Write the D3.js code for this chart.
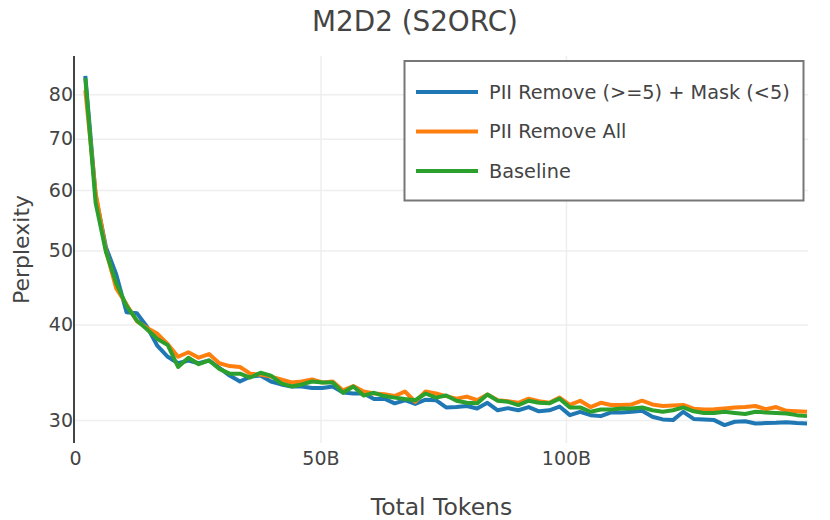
<!DOCTYPE html>
<html>
<head>
<meta charset="utf-8">
<script src="https://cdn.jsdelivr.net/npm/d3@7"></script>
<style>
  body { margin: 0; background: #fff; }
  text { font-family: "DejaVu Sans", Verdana, sans-serif; fill: #444; }
</style>
</head>
<body>
<svg id="chart" width="830" height="520"></svg>
<script>
// total tokens (billions) at each eval point
const tokens = [2.1, 4.2, 6.3, 8.4, 10.5, 12.6, 14.7, 16.8, 18.9, 21.0, 23.1, 25.2, 27.3, 29.4, 31.5, 33.6, 35.7, 37.8, 39.9, 42.0,
  44.1, 46.2, 48.3, 50.4, 52.5, 54.6, 56.7, 58.8, 60.9, 63.0, 65.1, 67.2, 69.3, 71.4, 73.5, 75.6, 77.7, 79.8, 81.9, 84.0,
  86.1, 88.2, 90.3, 92.4, 94.5, 96.6, 98.7, 100.8, 102.9, 105.0, 107.1, 109.2, 111.3, 113.4, 115.5, 117.6, 119.7, 121.8, 123.9, 126.0,
  128.1, 130.2, 132.3, 134.4, 136.5, 138.6, 140.7, 142.8, 144.9, 147.0, 149.1];

const removeMask = [84.6, 59.0, 50.5, 46.5, 41.5, 41.4, 39.7, 37.5, 36.3, 35.6, 35.9, 35.6, 35.9, 35.1, 34.3, 33.7, 34.2, 34.3, 33.7, 33.4,
  33.2, 33.2, 33.05, 33.05, 33.2, 32.6, 32.5, 32.5, 31.96, 32.0, 31.55, 31.85, 31.5, 31.9, 31.85, 31.17, 31.2, 31.3, 31.07, 31.6,
  30.9, 31.1, 30.9, 31.2, 30.8, 30.9, 31.25, 30.45, 30.75, 30.45, 30.36, 30.7, 30.7, 30.76, 30.85, 30.3, 30.06, 30.0, 30.76, 30.1,
  30.05, 30.0, 29.55, 29.85, 29.9, 29.7, 29.73, 29.75, 29.8, 29.73, 29.7];

const removeAll = [81.0, 59.5, 50.0, 44.6, 42.5, 40.4, 39.6, 38.9, 37.7, 36.3, 36.8, 36.2, 36.6, 35.6, 35.3, 35.2, 34.5, 34.4, 34.2, 33.9,
  33.6, 33.7, 33.9, 33.6, 33.7, 32.8, 33.24, 32.7, 32.5, 32.44, 32.25, 32.7, 31.7, 32.7, 32.5, 32.25, 32.0, 32.2, 31.85, 32.4,
  31.85, 31.75, 31.6, 32.0, 31.75, 31.6, 32.1, 31.4, 31.8, 31.2, 31.6, 31.4, 31.4, 31.45, 31.8, 31.45, 31.3, 31.35, 31.4, 31.05,
  30.97, 31.0, 31.07, 31.15, 31.2, 31.3, 31.0, 31.2, 30.85, 30.8, 30.76];

const baseline = [84.0, 57.7, 49.8, 45.3, 42.3, 40.5, 39.4, 38.3, 37.6, 35.2, 36.2, 35.5, 35.9, 35.0, 34.5, 34.5, 34.1, 34.6, 34.3, 33.5,
  33.2, 33.4, 33.7, 33.6, 33.6, 32.57, 33.2, 32.3, 32.57, 32.25, 32.1, 31.96, 31.85, 32.5, 32.1, 32.3, 31.8, 31.6, 31.55, 32.4,
  31.8, 31.7, 31.39, 31.8, 31.6, 31.55, 32.0, 31.17, 31.17, 30.76, 30.97, 30.97, 31.07, 31.07, 31.17, 30.9, 30.76, 30.9, 31.17, 30.8,
  30.65, 30.65, 30.76, 30.65, 30.55, 30.76, 30.7, 30.65, 30.6, 30.45, 30.36];

const seriesNames = ["PII Remove (>=5) + Mask (<5)", "PII Remove All", "Baseline"];
const seriesColors = ["#1f77b4", "#ff7f0e", "#2ca02c"];

const yTicks = [30, 40, 50, 60, 70, 80];
const xTicks = [0, 50, 100];
const xTickLabels = ["0", "50B", "100B"];

const plot = { left: 75, right: 808, top: 56, bottom: 443 };

const svg = d3.select("#chart");

const x = d3.scaleLinear().domain([0, 149.3]).range([plot.left, plot.right]);
const y = d3.scaleLog().domain([28.0, 89.8]).range([plot.bottom, plot.top]);

// grid
svg.append("g")
  .call(d3.axisLeft(y).tickValues(yTicks).tickSize(-(plot.right - plot.left)).tickFormat(""))
  .attr("transform", `translate(${plot.left},0)`)
  .call(g => g.select(".domain").remove())
  .call(g => g.selectAll("line").attr("stroke", "#eee").attr("stroke-width", 1.5));

svg.append("g")
  .call(d3.axisBottom(x).tickValues(xTicks.slice(1)).tickSize(-(plot.bottom - plot.top)).tickFormat(""))
  .attr("transform", `translate(0,${plot.bottom})`)
  .call(g => g.select(".domain").remove())
  .call(g => g.selectAll("line").attr("stroke", "#eee").attr("stroke-width", 1.5));

// tick labels
svg.append("g")
  .attr("transform", `translate(${plot.left},0)`)
  .call(d3.axisLeft(y).tickValues(yTicks).tickSize(0).tickPadding(2).tickFormat(d3.format("d")))
  .call(g => g.select(".domain").remove())
  .call(g => g.selectAll("text").attr("font-size", 19).attr("fill", "#444")
    .attr("font-family", "DejaVu Sans"));

svg.append("g")
  .attr("transform", `translate(0,${plot.bottom})`)
  .call(d3.axisBottom(x).tickValues(xTicks).tickSize(0).tickPadding(8.5).tickFormat((d, i) => xTickLabels[i]))
  .call(g => g.select(".domain").remove())
  .call(g => g.selectAll("text").attr("font-size", 19).attr("fill", "#444")
    .attr("font-family", "DejaVu Sans"));

// y axis line
svg.append("line")
  .attr("x1", plot.left - 1).attr("x2", plot.left - 1)
  .attr("y1", plot.top).attr("y2", plot.bottom)
  .attr("stroke", "#444").attr("stroke-width", 2);

// lines
const allSeries = [removeMask, removeAll, baseline];
const line = d3.line()
  .x((d, i) => x(tokens[i]))
  .y(d => y(d));

svg.append("g")
  .selectAll("path")
  .data(allSeries)
  .join("path")
  .attr("d", line)
  .attr("fill", "none")
  .attr("stroke", (d, i) => seriesColors[i])
  .attr("stroke-width", 4)
  .attr("stroke-linejoin", "round");

// legend
const legend = svg.append("g");
legend.append("rect")
  .attr("x", 404.5).attr("y", 61).attr("width", 399).attr("height", 139.5)
  .attr("fill", "#fff").attr("stroke", "#777").attr("stroke-width", 2);

const items = legend.selectAll("g.item")
  .data(seriesNames)
  .join("g")
  .attr("class", "item")
  .attr("transform", (d, i) => `translate(0,${92 + i * 39.5})`);

items.append("line")
  .attr("x1", 416).attr("x2", 478)
  .attr("stroke", (d, i) => seriesColors[i])
  .attr("stroke-width", 4);

items.append("text")
  .attr("x", 489)
  .attr("dy", "0.36em")
  .attr("font-size", 19.3)
  .text(d => d);

// titles
svg.append("text")
  .attr("x", 415).attr("y", 31)
  .attr("text-anchor", "middle")
  .attr("font-size", 27.8)
  .text("M2D2 (S2ORC)");

svg.append("text")
  .attr("x", (plot.left + plot.right) / 2).attr("y", 515)
  .attr("text-anchor", "middle")
  .attr("font-size", 23.5)
  .text("Total Tokens");

svg.append("text")
  .attr("transform", `translate(29,${(plot.top + plot.bottom) / 2}) rotate(-90)`)
  .attr("text-anchor", "middle")
  .attr("font-size", 22)
  .text("Perplexity");
</script>
</body>
</html>
